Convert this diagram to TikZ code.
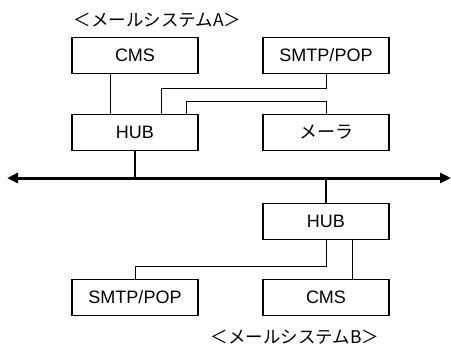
\documentclass[tikz,border=0pt]{standalone}
\usepackage{fontspec}
\setmainfont{Liberation Sans}
\newfontfamily\cjk{Noto Sans CJK JP}
\usetikzlibrary{arrows.meta}
\begin{document}
\begin{tikzpicture}[x=1pt,y=-1pt,
  box/.style={draw,line width=1.8pt,minimum width=126pt,minimum height=36pt,inner sep=0pt,font=\fontsize{18}{21}\selectfont},
  thin/.style={line width=0.9pt},
  drop/.style={line width=2pt},
  bus/.style={line width=3pt,{Triangle[length=11pt,width=10pt]}-{Triangle[length=11pt,width=10pt]}},
  lab/.style={font=\cjk\fontsize{17.5}{21}\selectfont,inner sep=0pt}]
\useasboundingbox (0,0) rectangle (451,349);
\node[box] (cmsA) at (135,55.5) {CMS};
\node[box] (smtpA) at (326,55.5) {SMTP/POP};
\node[box] (hubA) at (135,132.5) {HUB};
\node[box] (mailer) at (326,132.5) {{\cjk メーラ}};
\node[box] (hubB) at (326,221.5) {HUB};
\node[box] (smtpB) at (135,297.5) {SMTP/POP};
\node[box] (cmsB) at (326,297.5) {CMS};
\node[lab] (labA) at (157.5,20) {＜メールシステムA＞};
\node[lab] (labB) at (295,337) {＜メールシステムB＞};
\coordinate (busL) at (7,178);
\coordinate (busR) at (451,178);
\coordinate (busA) at (135,178);
\coordinate (busB) at (326,178);
\draw[bus] (busL) -- (busR);
\draw[drop] (hubA.south) -- (busA);
\draw[drop] (hubB.north) -- (busB);
\draw[thin] ([xshift=-25pt]cmsA.south) -- ([xshift=-25pt]hubA.north);
\draw[thin] (smtpA.south) -- ++(0,14) -| ([xshift=26pt]hubA.north);
\draw[thin] (mailer.north) -- ++(0,-12) -| ([xshift=51pt]hubA.north);
\draw[thin] (hubB.south) -- ++(0,26) -| (smtpB.north);
\draw[thin] ([xshift=26pt]hubB.south) -- ([xshift=26pt]cmsB.north);
\end{tikzpicture}
\end{document}
